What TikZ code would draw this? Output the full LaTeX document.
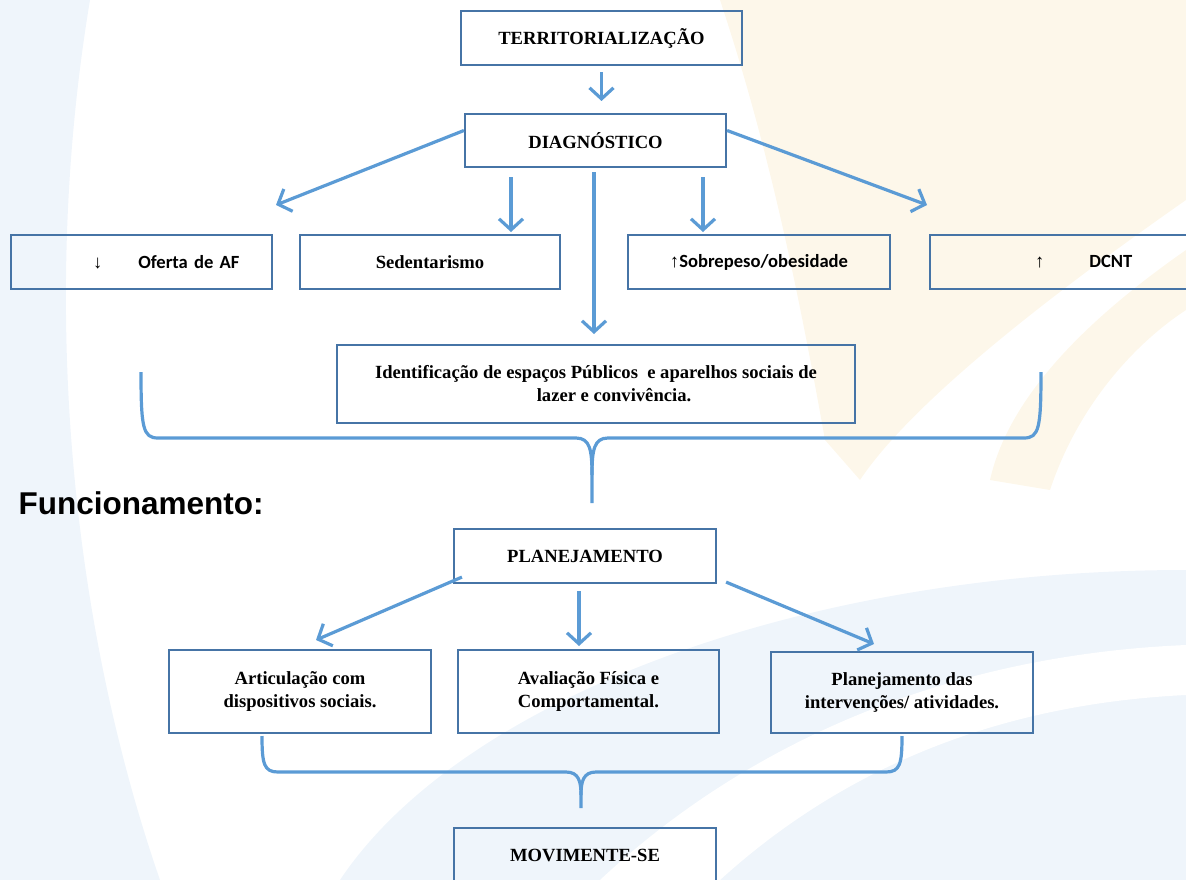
\documentclass[tikz,border=0pt]{standalone}
\usepackage{fontspec}
\setmainfont{Liberation Serif}
\newfontfamily\calib{Carlito}
\newfontfamily\arialf{Liberation Sans}
\usetikzlibrary{arrows.meta}
\definecolor{arrowblue}{HTML}{5B9BD5}
\definecolor{boxblue}{HTML}{4674A6}
\definecolor{wmblue}{HTML}{EFF5FB}
\definecolor{wmyellow}{HTML}{FDF7EA}
\newcommand{\upar}{{\mdseries\rmfamily ↑}}
\newcommand{\dnar}{{\mdseries\rmfamily ↓}}
\begin{document}
\begin{tikzpicture}[x=1pt,y=-1pt]
		\tikzstyle{box}=[draw=boxblue,line width=2.2pt,inner sep=0pt,align=center,font=\bfseries\fontsize{18.6}{23}\selectfont]
		\tikzstyle{sbox}=[box,font=\calib\bfseries\fontsize{18.6}{23}\selectfont]
		\tikzstyle{arr}=[draw=arrowblue,line width=3.2pt,-{Straight Barb[length=11pt,width=24pt,line width=3.2pt]}]
		\tikzstyle{brace}=[draw=arrowblue,line width=3.2pt]
		\useasboundingbox (0,0) rectangle (1186,880);
		% watermark
		\fill[wmblue] (0,0) -- (90,0) .. controls (40,300) and (70,620) .. (160,880) -- (0,880) -- cycle;
		\fill[wmblue] (340,880) .. controls (460,700) and (800,570) .. (1186,570) -- (1186,880) -- cycle;
		\fill[white] (600,880) .. controls (750,740) and (950,655) .. (1186,645) -- (1186,695) .. controls (980,705) and (830,780) .. (720,880) -- cycle;
		\fill[wmyellow] (720,0) -- (1186,0) -- (1186,200) .. controls (1000,330) and (900,420) .. (860,480) -- (825,440) .. controls (800,300) and (770,150) .. (720,0) -- cycle;
		\fill[wmyellow] (1186,250) .. controls (1100,310) and (1010,390) .. (990,480) -- (1050,490) .. controls (1080,400) and (1140,340) .. (1186,310) -- cycle;
		% boxes
		\node[box,minimum width=281,minimum height=54](terr)at(601.5,38){TERRITORIALIZAÇÃO};
		\node[box,minimum width=261,minimum height=53](diag)at(595.5,140.5){DIAGNÓSTICO};
		\node[sbox,minimum height=54,text width=261,align=left](oferta)at(141.5,262){\hspace*{82pt}\dnar\hspace{36pt}Oferta de AF};
		\node[box,minimum width=260,minimum height=54](sed)at(430,262){Sedentarismo};
		\node[sbox,minimum width=262,minimum height=54](sobre)at(759,262){\upar Sobrepeso/obesidade};
		\node[sbox,minimum height=54,text width=262,align=left](dcnt)at(1061,262){\hspace*{105pt}\upar\hspace{45pt}DCNT};
		\node[box,minimum width=518,minimum height=78](ident)at(596,384){Identificação de espaços Públicos \ e aparelhos sociais de\\\hspace*{36pt}lazer e convivência.};
		\node[anchor=west,font=\arialf\bfseries\fontsize{31.5}{36}\selectfont](func)at(15,503){Funcionamento:};
		\node[box,minimum width=262,minimum height=54](plan)at(585,556){PLANEJAMENTO};
		\node[box,minimum width=262,minimum height=83](artic)at(300,691.5){Articulação com\\dispositivos sociais.};
		\node[box,minimum width=261,minimum height=83](aval)at(588.5,691.5){Avaliação Física e\\Comportamental.};
		\node[box,minimum width=262,minimum height=81](interv)at(902,692.5){Planejamento das\\intervenções/ atividades.};
		\node[box,minimum width=262,minimum height=54](movi)at(585,855){MOVIMENTE-SE};
		% arrow tips
		\coordinate(t1)at(601.5,101);
		\coordinate(t2)at(276,205);
		\coordinate(t3)at(511,232);
		\coordinate(t4)at(594,334);
		\coordinate(t5)at(703,232);
		\coordinate(t6)at(927,205);
		\coordinate(t7)at(316,640);
		\coordinate(t8)at(579,646);
		\coordinate(t9)at(874,644);
		\draw[arr] ([yshift=-6pt]terr.south) -- (t1);
		\draw[arr] ([yshift=10pt]diag.west) -- (t2);
		\draw[arr] ([xshift=-84.5pt,yshift=-9pt]diag.south) -- (t3);
		\draw[arr] ([xshift=-1.5pt,yshift=-4pt]diag.south) -- (t4);
		\draw[arr] ([xshift=107.5pt,yshift=-9pt]diag.south) -- (t5);
		\draw[arr] ([yshift=10pt]diag.east) -- (t6);
		\draw[arr] ([xshift=9pt,yshift=7pt]plan.south west) -- (t7);
		\draw[arr] ([xshift=-6pt,yshift=-7pt]plan.south) -- (t8);
		\draw[arr] ([xshift=9pt,yshift=2pt]plan.south east) -- (t9);
		% braces
		\coordinate(bl1)at(141,372);
		\coordinate(br1)at(1041,372);
		\coordinate(bs1)at(592,503);
		\draw[brace] (bl1) .. controls (141,428) and (143,438) .. (158,438) -- (576,438) .. controls (590,438) and (592,450) .. (592,475) -- (bs1);
		\draw[brace] (br1) .. controls (1041,428) and (1039,438) .. (1024,438) -- (608,438) .. controls (594,438) and (592,450) .. (592,475);
		\coordinate(bl2)at(262,736);
		\coordinate(br2)at(902,736);
		\coordinate(bs2)at(581,808);
		\draw[brace] (bl2) .. controls (262,764) and (264,772) .. (278,772) -- (566,772) .. controls (579,772) and (581,782) .. (581,795) -- (bs2);
		\draw[brace] (br2) .. controls (902,764) and (900,772) .. (886,772) -- (596,772) .. controls (583,772) and (581,782) .. (581,795);
		\end{tikzpicture}
\end{document}
